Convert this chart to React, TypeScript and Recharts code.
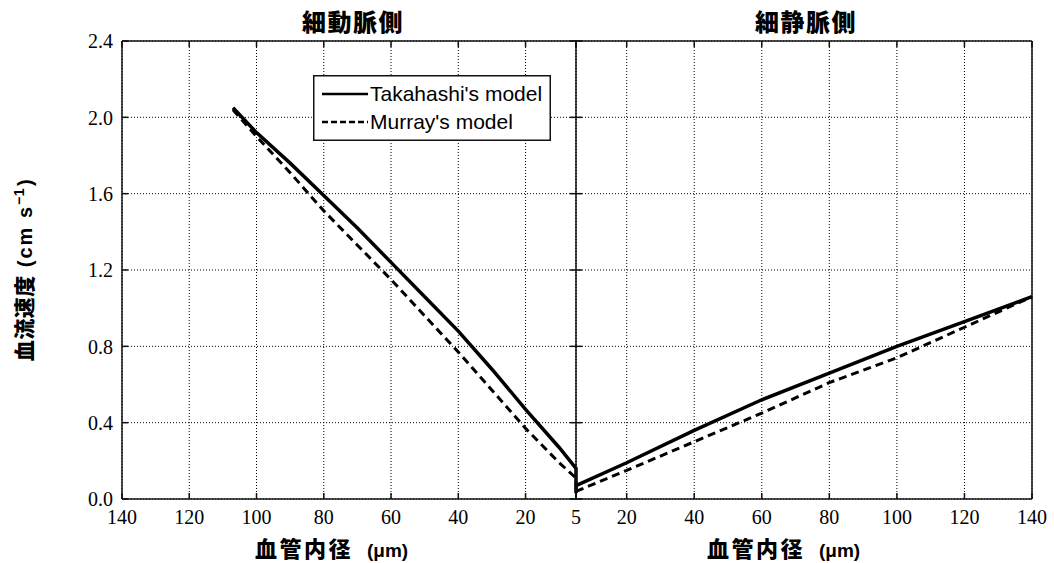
import React from 'react';
import { LineChart, Line, XAxis, YAxis, CartesianGrid, Legend } from 'recharts';

// 細動脈側 (arteriole side), inner diameter in µm, velocity in cm/s
const arterioleDiameters = [107, 100, 90, 80, 70, 60, 50, 40, 30, 20, 10, 5, 5];
const arterioleTakahashi = [2.05, 1.92, 1.76, 1.59, 1.42, 1.24, 1.06, 0.88, 0.68, 0.47, 0.27, 0.16, 0.03];
const arterioleMurray = [2.04, 1.9, 1.71, 1.51, 1.33, 1.15, 0.96, 0.77, 0.57, 0.37, 0.19, 0.11, 0.03];

// 細静脈側 (venule side)
const venuleDiameters = [5, 20, 40, 60, 80, 100, 120, 140];
const venuleTakahashi = [0.07, 0.19, 0.36, 0.52, 0.66, 0.8, 0.93, 1.06];
const venuleMurray = [0.04, 0.15, 0.3, 0.45, 0.61, 0.74, 0.9, 1.06];

const velocityTicks = [0, 0.4, 0.8, 1.2, 1.6, 2.0, 2.4];
const arterioleTicks = [140, 120, 100, 80, 60, 40, 20, 5];
const venuleTicks = [5, 20, 40, 60, 80, 100, 120, 140];

const arterioleData = arterioleDiameters.map((d, i) => ({
  d,
  takahashi: arterioleTakahashi[i],
  murray: arterioleMurray[i],
}));
const venuleData = venuleDiameters.map((d, i) => ({
  d,
  takahashi: venuleTakahashi[i],
  murray: venuleMurray[i],
}));

const W = 1054;
const H = 563;
const SERIF = 'Liberation Serif, DejaVu Serif, serif';
const SANS = 'Liberation Sans, Arial, sans-serif';
const CJK = 'Noto Sans CJK JP, Noto Sans CJK SC, sans-serif';
const INK = '#111';
const TICK = 6;

// bottom axis: number label + inward tick
const BottomTick = (props: any) => {
  const { x, y, payload, hideFive } = props;
  const axisY = y - 11;
  return (
    <g>
      <line x1={x} y1={axisY} x2={x} y2={axisY - TICK} stroke={INK} strokeWidth={1.5} />
      {hideFive && payload.value === 5 ? null : (
        <text x={x} y={y} dy="0.71em" textAnchor="middle" style={{ fontFamily: SERIF, fontSize: 20 }} fill="#000">
          {payload.value}
        </text>
      )}
    </g>
  );
};

const TopTick = (props: any) => {
  const { x, y } = props;
  return <line x1={x} y1={y} x2={x} y2={y + TICK} stroke={INK} strokeWidth={1.5} />;
};

const LeftTick = (props: any) => {
  const { x, y, payload } = props;
  const axisX = x + 9;
  return (
    <g>
      <line x1={axisX} y1={y} x2={axisX + TICK} y2={y} stroke={INK} strokeWidth={1.5} />
      <text x={x} y={y} dy="0.36em" textAnchor="end" style={{ fontFamily: SERIF, fontSize: 20 }} fill="#000">
        {Number(payload.value).toFixed(1)}
      </text>
    </g>
  );
};

const CenterTick = (props: any) => {
  const { x, y } = props;
  return <line x1={x - TICK} y1={y} x2={x + TICK} y2={y} stroke={INK} strokeWidth={1.5} />;
};

const RightTick = (props: any) => {
  const { x, y } = props;
  return <line x1={x - TICK} y1={y} x2={x} y2={y} stroke={INK} strokeWidth={1.5} />;
};

const LegendBox = () => (
  <svg width={238} height={66} style={{ display: 'block' }}>
    <rect x={0.75} y={0.75} width={236.5} height={64.5} fill="#fff" stroke={INK} strokeWidth={1.5} />
    <line x1={9} y1={19} x2={55} y2={19} stroke="#000" strokeWidth={2.5} />
    <text x={57} y={26} style={{ fontFamily: SANS, fontSize: 21 }} fill="#000">Takahashi's model</text>
    <line x1={9} y1={47} x2={55} y2={47} stroke="#000" strokeWidth={2.5} strokeDasharray="6 3" />
    <text x={57} y={54} style={{ fontFamily: SANS, fontSize: 21 }} fill="#000">Murray's model</text>
  </svg>
);

const AxisTitle = ({ x }: { x: number }) => (
  <text x={x} y={557} style={{ fontFamily: CJK, fontWeight: 900, fontSize: 22, letterSpacing: 2.5 }} fill="#000">
    血管内径
    <tspan dx={14} style={{ fontFamily: SANS, fontWeight: 700, fontSize: 19, letterSpacing: 0 }}>(μm)</tspan>
  </text>
);

export default function App() {
  const lineCommon = {
    type: 'linear' as const,
    stroke: '#000',
    dot: false,
    activeDot: false,
    isAnimationActive: false,
    legendType: 'none' as const,
  };
  return (
    <div style={{ position: 'absolute', left: 0, top: 0, width: W, height: H, background: '#fff' }}>
      {/* 細動脈側 panel */}
      <div style={{ position: 'absolute', left: 0, top: 0 }}>
        <LineChart width={600} height={H} data={arterioleData} margin={{ top: 40, right: 24, left: 0, bottom: 0 }}>
          <CartesianGrid stroke="#000" strokeWidth={1} strokeDasharray="1 2" />
          <XAxis
            dataKey="d"
            type="number"
            domain={[5, 140]}
            ticks={arterioleTicks}
            reversed
            interval={0}
            height={64}
            tickSize={0}
            tickMargin={11}
            axisLine={{ stroke: INK, strokeWidth: 1.5 }}
            tickLine={false}
            tick={<BottomTick />}
          />
          <XAxis
            xAxisId="top"
            orientation="top"
            dataKey="d"
            type="number"
            domain={[5, 140]}
            ticks={arterioleTicks}
            reversed
            interval={0}
            height={1}
            tickSize={0}
            tickMargin={0}
            axisLine={{ stroke: INK, strokeWidth: 1.5 }}
            tickLine={false}
            tick={<TopTick />}
          />
          <YAxis
            type="number"
            domain={[0, 2.4]}
            ticks={velocityTicks}
            interval={0}
            width={122}
            tickSize={0}
            tickMargin={9}
            axisLine={{ stroke: INK, strokeWidth: 1.5 }}
            tickLine={false}
            tick={<LeftTick />}
          />
          <Legend
            layout="horizontal"
            align="center"
            verticalAlign="middle"
            content={() => <LegendBox />}
            wrapperStyle={{ left: 313, top: 75, width: 238, height: 66 }}
          />
          <Line {...lineCommon} dataKey="murray" strokeWidth={3} strokeDasharray="8 5" />
          <Line {...lineCommon} dataKey="takahashi" strokeWidth={3.5} />
          <text
            x={353}
            y={31}
            textAnchor="middle"
            style={{ fontFamily: CJK, fontWeight: 900, fontSize: 24, letterSpacing: 1.5 }}
            fill="#000"
          >
            細動脈側
          </text>
          <AxisTitle x={255} />
          <text
            transform="translate(32,270) rotate(-90)"
            textAnchor="middle"
            style={{ fontFamily: CJK, fontWeight: 900, fontSize: 21, letterSpacing: 0.5 }}
            fill="#000"
          >
            血流速度
            <tspan dx={8} style={{ fontFamily: SANS, fontWeight: 700, fontSize: 20, letterSpacing: 2 }}>(cm  s</tspan>
            <tspan dy={-8} style={{ fontFamily: SANS, fontWeight: 700, fontSize: 14 }}>−1</tspan>
            <tspan dy={8} dx={2} style={{ fontFamily: SANS, fontWeight: 700, fontSize: 20 }}>)</tspan>
          </text>
        </LineChart>
      </div>

      {/* 細静脈側 panel */}
      <div style={{ position: 'absolute', left: 0, top: 0 }}>
        <LineChart width={W} height={H} data={venuleData} margin={{ top: 40, right: 21, left: 0, bottom: 0 }}>
          <CartesianGrid stroke="#000" strokeWidth={1} strokeDasharray="1 2" />
          <XAxis
            dataKey="d"
            type="number"
            domain={[5, 140]}
            ticks={venuleTicks}
            interval={0}
            height={64}
            tickSize={0}
            tickMargin={11}
            axisLine={{ stroke: INK, strokeWidth: 1.5 }}
            tickLine={false}
            tick={<BottomTick hideFive />}
          />
          <XAxis
            xAxisId="top"
            orientation="top"
            dataKey="d"
            type="number"
            domain={[5, 140]}
            ticks={venuleTicks}
            interval={0}
            height={1}
            tickSize={0}
            tickMargin={0}
            axisLine={{ stroke: INK, strokeWidth: 1.5 }}
            tickLine={false}
            tick={<TopTick />}
          />
          <YAxis
            type="number"
            domain={[0, 2.4]}
            ticks={velocityTicks}
            interval={0}
            width={576}
            tickSize={0}
            tickMargin={0}
            axisLine={{ stroke: INK, strokeWidth: 1.5 }}
            tickLine={false}
            tick={<CenterTick />}
          />
          <YAxis
            yAxisId="r"
            orientation="right"
            type="number"
            domain={[0, 2.4]}
            ticks={velocityTicks}
            interval={0}
            width={1}
            tickSize={0}
            tickMargin={0}
            axisLine={{ stroke: INK, strokeWidth: 1.5 }}
            tickLine={false}
            tick={<RightTick />}
          />
          <Line {...lineCommon} dataKey="murray" strokeWidth={3} strokeDasharray="8 5" />
          <Line {...lineCommon} dataKey="takahashi" strokeWidth={3.5} />
          <text
            x={806}
            y={31}
            textAnchor="middle"
            style={{ fontFamily: CJK, fontWeight: 900, fontSize: 24, letterSpacing: 1.5 }}
            fill="#000"
          >
            細静脈側
          </text>
          <AxisTitle x={707} />
        </LineChart>
      </div>
    </div>
  );
}
